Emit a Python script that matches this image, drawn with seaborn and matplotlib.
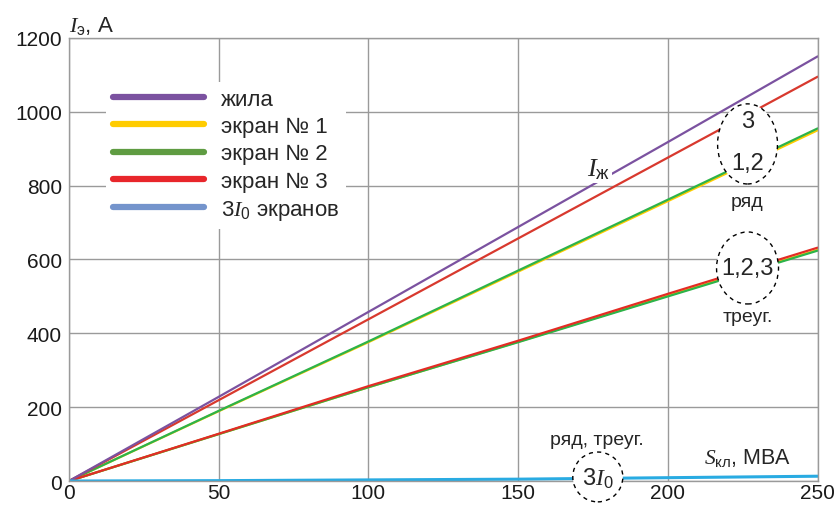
import numpy as np
import pandas as pd
import matplotlib
matplotlib.use("Agg")
import matplotlib.pyplot as plt
import seaborn as sns
from matplotlib.patches import Ellipse
from matplotlib.lines import Line2D

# Power of the cable line, MVA
s_kl = [0, 50, 100, 150, 200, 250]

# Currents, A
core = [0, 228, 458, 688, 918, 1150]
row_scr3 = [0, 219, 438, 657, 876, 1095]
row_scr2 = [0, 190, 378, 570, 762, 955]
row_scr1 = [0, 189, 376, 567, 758, 950]
tri_scr3 = [0, 128, 257, 380, 507, 632]
tri_scr2 = [0, 127, 254, 376, 500, 624]
tri_scr1 = [0, 127, 254, 377, 502, 626]
zero_seq = [0, 1, 3, 5, 9, 13]

legend_labels = ["жила", "экран № 1", "экран № 2", "экран № 3", r"$3I_0$ экранов"]
legend_colors = ["#7b52a0", "#ffcc00", "#5f9c42", "#e8262b", "#7494cc"]

sns.set_theme(style="white")
plt.rcParams["font.family"] = ["Liberation Sans", "DejaVu Sans"]
plt.rcParams["mathtext.fontset"] = "custom"
plt.rcParams["mathtext.rm"] = "Liberation Sans"
plt.rcParams["mathtext.it"] = "Liberation Serif:italic"

fig = plt.figure(figsize=(8.36, 5.06), dpi=100)
ax = fig.add_axes([0.0825, 0.0474, 0.8955, 0.8756])

series = [
    (row_scr1, "#ffcc00", 1.6), (row_scr2, "#2db34a", 1.6),
    (tri_scr1, "#ffcc00", 1.6), (tri_scr2, "#2db34a", 1.6),
    (row_scr3, "#d8392e", 1.6), (tri_scr3, "#e32c25", 1.6),
    (core, "#7b52a0", 1.6), (zero_seq, "#29abe2", 2.2),
]
for vals, col, lw in series:
    df = pd.DataFrame({"S": s_kl, "I": vals})
    sns.lineplot(data=df, x="S", y="I", color=col, linewidth=lw, ax=ax, zorder=2)

ax.set_xlim(0, 250)
ax.set_ylim(0, 1200)
ax.set_xticks(range(0, 251, 50))
ax.set_yticks(range(0, 1201, 200))
ax.set_xlabel("")
ax.set_ylabel("")
ax.grid(True, color="#9a9a9a", linewidth=1.0)
for sp in ax.spines.values():
    sp.set_color("#9a9a9a")
    sp.set_linewidth(1.0)
ax.tick_params(axis="both", labelsize=15, colors="#1a1a1a", length=0)
ax.tick_params(axis="x", pad=1.5)
ax.tick_params(axis="y", pad=5)

# dashed circles
circles = [(226.6, 913, 20, 217), (226.6, 577, 20.7, 195), (176.6, 11, 16.7, 135)]
for cx, cy, w, h in circles:
    e = Ellipse((cx, cy), w, h, facecolor="white", edgecolor="black",
                linestyle=(0, (3, 3)), linewidth=1.0, zorder=3, clip_on=False)
    ax.add_patch(e)

ax.text(226.6, 975, "3", fontsize=17, ha="center", va="center", zorder=4)
ax.text(226.6, 862, "1,2", fontsize=17, ha="center", va="center", zorder=4)
ax.text(226.6, 756, "ряд", fontsize=14, ha="center", va="center", zorder=4)
ax.text(226.6, 577, "1,2,3", fontsize=17, ha="center", va="center", zorder=4)
ax.text(226.6, 445, "треуг.", fontsize=14, ha="center", va="center", zorder=4)
ax.text(176.6, 8, r"$3I_0$", fontsize=17, ha="center", va="center", zorder=4)
ax.text(176.2, 112, "ряд, треуг.", fontsize=14, ha="center", va="center", zorder=4)
ax.text(226.6, 66, r"$S_\mathrm{кл}$, МВА", fontsize=15.5, ha="center", va="center",
        zorder=4)
ax.text(177, 845, r"$I_\mathrm{ж}$", fontsize=19, ha="center", va="center", zorder=4,
        bbox=dict(facecolor="white", edgecolor="none", pad=1))

fig.text(0.083, 0.948, r"$I_\mathrm{э}$, А", fontsize=16, ha="left", va="center")

handles = [Line2D([0], [0], color=c, linewidth=4.5, solid_capstyle="round")
           for c in legend_colors]
leg = ax.legend(handles, legend_labels, loc="upper left", bbox_to_anchor=(0.035, 0.925),
                fontsize=16, frameon=True, framealpha=1, edgecolor="none",
                facecolor="white", handlelength=4.1, handletextpad=0.75,
                labelspacing=0.28, borderpad=0.3)
leg.set_zorder(5)

fig.savefig("out.png", dpi=100)
